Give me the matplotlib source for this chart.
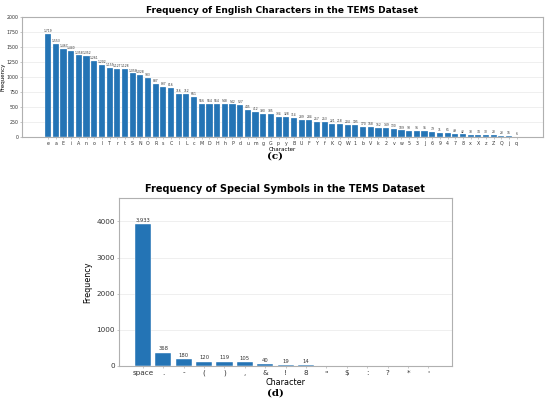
import matplotlib
matplotlib.use("Agg")
import matplotlib.pyplot as plt

# English characters (panel c)
eng_chars = ["e", "a", "E", "i", "A", "n", "o", "l", "T", "r",
             "t", "S", "N", "O", "R", "s", "C", "I", "L", "c",
             "M", "D", "H", "h", "P", "d", "u", "m", "g", "G",
             "p", "y", "B", "U", "F", "Y", "f", "K", "Q", "W",
             "1", "b", "V", "k", "2", "v", "w", "5", "3", "J",
             "6", "9", "4", "7", "8", "x", "X", "z", "Z", "Q",
             "j", "q"]
eng_counts = [1719, 1553, 1467, 1440, 1358, 1352, 1261, 1202, 1155, 1127,
              1128, 1058, 1028, 983, 887, 837, 816, 716, 712, 661,
              556, 554, 554, 548, 542, 527, 445, 412, 390, 385,
              334, 328, 314, 289, 284, 257, 253, 221, 218, 204,
              195, 170, 168, 152, 149, 130, 109, 98, 96, 95,
              79, 71, 61, 49, 42, 38, 34, 30, 28, 23,
              16, 6]

# special symbols (panel d)
sym_chars = ["space", ".", "-", "(", ")", ",", "&", "!", "8", "\"", "$", ":", "?", "*", "'"]
sym_counts = [3933, 368, 180, 120, 119, 105, 40, 19, 14, 0, 0, 0, 0, 0, 0]

BAR = "#2474b5"
SPINE = "#b0b0b0"
GRID = "#ececec"

fig = plt.figure(figsize=(5.5, 4.03), dpi=100, facecolor="white")


def style_axes(ax, tick_size):
    for s in ax.spines.values():
        s.set_color(SPINE)
        s.set_linewidth(0.8)
    ax.set_axisbelow(True)
    ax.yaxis.grid(True, color=GRID, linewidth=0.6)
    ax.tick_params(axis="both", labelsize=tick_size, length=1.5, width=0.5,
                   color=SPINE, pad=1.2, labelcolor="#333333")


# ---- panel (c) ----
ax1 = fig.add_axes([0.040, 0.660, 0.947, 0.298])
pos1 = range(len(eng_counts))
bars1 = ax1.bar(pos1, eng_counts, width=0.8, color=BAR, edgecolor="white", linewidth=0.2)
ax1.set_xlim(-3.4, len(eng_counts) + 2.4)
ax1.set_ylim(0, 2000)
ax1.set_yticks(range(0, 2001, 250))
ax1.set_xticks(list(pos1))
ax1.set_xticklabels(eng_chars)
style_axes(ax1, 3.4)
for b, v in zip(bars1, eng_counts):
    ax1.text(b.get_x() + b.get_width() / 2, v + 15, f"{v:,}", ha="center", va="bottom",
             fontsize=2.2, color="#333333")
ax1.set_title("Frequency of English Characters in the TEMS Dataset", fontsize=6.5,
              fontweight="bold", pad=3)
ax1.set_ylabel("Frequency", fontsize=4)
ax1.yaxis.set_label_coords(-0.032, 0.5)
ax1.set_xlabel("Character", fontsize=4, labelpad=0.8)
fig.text(0.5, 0.612, "(c)", ha="center", va="center", fontsize=7.5,
         fontweight="bold", family="DejaVu Serif")

# ---- panel (d) ----
ax2 = fig.add_axes([0.216, 0.092, 0.605, 0.417])
pos2 = range(len(sym_counts))
bars2 = ax2.bar(pos2, sym_counts, width=0.8, color=BAR, edgecolor="white", linewidth=0.3)
ax2.set_xlim(-1.18, len(sym_counts) - 1 + 1.13)
ax2.set_ylim(0, 4650)
ax2.set_yticks(range(0, 4001, 1000))
ax2.set_xticks(list(pos2))
ax2.set_xticklabels(sym_chars)
style_axes(ax2, 5.2)
for b, v in zip(bars2, sym_counts):
    if v > 0:
        ax2.text(b.get_x() + b.get_width() / 2, v + 40, f"{v:,}", ha="center", va="bottom",
                 fontsize=3.8, color="#333333")
ax2.set_title("Frequency of Special Symbols in the TEMS Dataset", fontsize=7,
              fontweight="bold", pad=4)
ax2.set_ylabel("Frequency", fontsize=5.8, labelpad=3)
ax2.set_xlabel("Character", fontsize=5.8, labelpad=1.2)
fig.text(0.5, 0.025, "(d)", ha="center", va="center", fontsize=7.5,
         fontweight="bold", family="DejaVu Serif")

fig.savefig("out.png", dpi=100, facecolor="white")
